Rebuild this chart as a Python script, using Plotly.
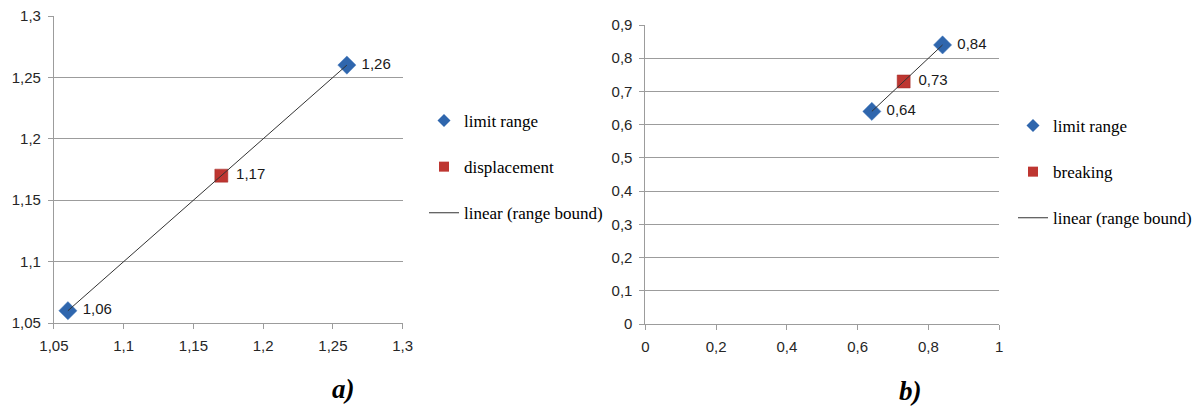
import plotly.graph_objects as go

# ---- data ----
a_limit_x = [1.06, 1.26]
a_limit_y = [1.06, 1.26]
a_disp_x = [1.17]
a_disp_y = [1.17]

b_limit_x = [0.64, 0.84]
b_limit_y = [0.64, 0.84]
b_break_x = [0.73]
b_break_y = [0.73]

a_xticks = [1.05, 1.1, 1.15, 1.2, 1.25, 1.3]
a_yticks = [1.05, 1.1, 1.15, 1.2, 1.25, 1.3]
b_xticks = [0, 0.2, 0.4, 0.6, 0.8, 1]
b_yticks = [0, 0.1, 0.2, 0.3, 0.4, 0.5, 0.6, 0.7, 0.8, 0.9]

BLUE = "#2f66ad"
RED = "#be3631"
LINE = "#333333"
GRID = "#9c9c9c"
LBL_FONT = dict(family="Liberation Sans", size=15, color="#1a1a1a")
LEG_FONT = dict(family="Liberation Serif", size=17, color="#000000")


def fmt(v):
    return f"{v:g}".replace(".", ",")


fig = go.Figure()


def add_panel(xs, ys, sx, sy, sname, xa, ya, legend):
    fig.add_trace(go.Scatter(x=xs, y=ys, mode="markers",
                             marker=dict(symbol="diamond", size=14, color=BLUE,
                                         line=dict(color="#4a7fc0", width=0.5)),
                             showlegend=False, name="limit range", xaxis=xa, yaxis=ya))
    fig.add_trace(go.Scatter(x=sx, y=sy, mode="markers",
                             marker=dict(symbol="square", size=13, color=RED,
                                         line=dict(color="#a02a26", width=0.5)),
                             showlegend=False, name=sname, xaxis=xa, yaxis=ya))
    # trend line through the limit range points
    fig.add_trace(go.Scatter(x=xs, y=ys, mode="lines", line=dict(color=LINE, width=1),
                             showlegend=False, xaxis=xa, yaxis=ya, hoverinfo="skip"))
    # data labels
    fig.add_trace(go.Scatter(x=xs + sx, y=ys + sy, mode="markers+text",
                             marker=dict(size=22, color="rgba(0,0,0,0)"),
                             text=[fmt(v) for v in ys + sy], textposition="middle right",
                             textfont=LBL_FONT, showlegend=False, xaxis=xa, yaxis=ya,
                             hoverinfo="skip", cliponaxis=False))
    # legend entries (small legend symbols as in the original)
    fig.add_trace(go.Scatter(x=[None], y=[None], mode="markers",
                             marker=dict(symbol="diamond", size=10, color=BLUE),
                             name="limit range", legendgroup=legend + "a", legend=legend,
                             legendrank=1, xaxis=xa, yaxis=ya))
    fig.add_trace(go.Scatter(x=[None], y=[None], mode="markers",
                             marker=dict(symbol="square", size=10, color=RED),
                             name=sname, legendgroup=legend + "b", legend=legend,
                             legendrank=2, xaxis=xa, yaxis=ya))
    fig.add_trace(go.Scatter(x=[None], y=[None], mode="lines",
                             line=dict(color=LINE, width=1),
                             name="linear (range bound)", legendgroup=legend + "c",
                             legend=legend, legendrank=3, xaxis=xa, yaxis=ya))


add_panel(a_limit_x, a_limit_y, a_disp_x, a_disp_y, "displacement", "x", "y", "legend")
add_panel(b_limit_x, b_limit_y, b_break_x, b_break_y, "breaking", "x2", "y2", "legend2")

W, H = 1197, 408
ax_common = dict(showline=True, linecolor=GRID, linewidth=1, ticks="outside", ticklen=5,
                 tickcolor=GRID, tickfont=dict(family="Liberation Sans", size=15, color="#262626"),
                 zeroline=False, fixedrange=True, automargin=False, ticklabelstandoff=4)

fig.update_layout(
    width=W, height=H,
    margin=dict(l=0, r=0, t=0, b=0),
    paper_bgcolor="white", plot_bgcolor="white",
    separators=",.",
    showlegend=True,
    xaxis=dict(domain=[54 / W, 403 / W], range=[1.05, 1.3], tickvals=a_xticks,
               ticktext=[fmt(v) for v in a_xticks], showgrid=False, anchor="y", **ax_common),
    yaxis=dict(domain=[(H - 323) / H, (H - 16) / H], range=[1.05, 1.3], tickvals=a_yticks,
               ticktext=[fmt(v) for v in a_yticks], showgrid=True, gridcolor=GRID,
               anchor="x", **ax_common),
    xaxis2=dict(domain=[646 / W, 1000 / W], range=[0, 1], tickvals=b_xticks,
                ticktext=[fmt(v) for v in b_xticks], showgrid=False, anchor="y2", **ax_common),
    yaxis2=dict(domain=[(H - 324) / H, (H - 25) / H], range=[0, 0.9], tickvals=b_yticks,
                ticktext=[fmt(v) for v in b_yticks], showgrid=True, gridcolor=GRID,
                anchor="x2", **ax_common),
    legend=dict(x=424 / W, y=(H - 103) / H, xanchor="left", yanchor="top",
                font=LEG_FONT, tracegroupgap=21, bgcolor="rgba(0,0,0,0)"),
    legend2=dict(x=1014 / W, y=(H - 108) / H, xanchor="left", yanchor="top",
                 font=LEG_FONT, tracegroupgap=21, bgcolor="rgba(0,0,0,0)"),
    annotations=[
        dict(text="<b><i>a)</i></b>", x=344 / W, y=(H - 389) / H, xref="paper", yref="paper",
             xanchor="center", yanchor="middle", showarrow=False,
             font=dict(family="Liberation Serif", size=27, color="#000")),
        dict(text="<b><i>b)</i></b>", x=911 / W, y=(H - 391) / H, xref="paper", yref="paper",
             xanchor="center", yanchor="middle", showarrow=False,
             font=dict(family="Liberation Serif", size=27, color="#000")),
    ],
)

fig.write_html("out.html", config={"displayModeBar": False},
               post_script="document.body.style.margin='0';")
